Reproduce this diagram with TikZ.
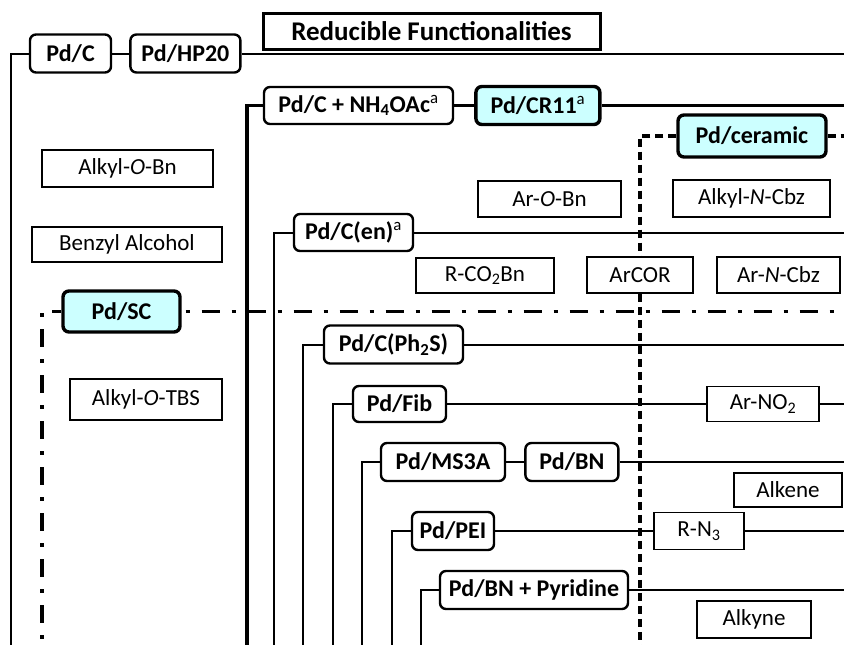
\documentclass[tikz,border=0pt]{standalone}
\usepackage{fontspec}
\setmainfont{Carlito}
\usepackage{xcolor}
\usetikzlibrary{positioning}
\definecolor{hicyan}{RGB}{204,255,255}

\begin{document}
\begin{tikzpicture}[x=1pt, y=-1pt,
  every node/.style={inner sep=0pt, align=center},
  cat/.style={draw, rounded corners=6pt, line width=2.4pt, fill=white,
    font=\fontsize{24}{27}\selectfont\bfseries, minimum height=38pt},
  hicat/.style={cat, fill=hicyan, line width=3.4pt},
  sub/.style={draw, line width=1.8pt, fill=white,
    font=\fontsize{23}{26}\selectfont, minimum height=36pt},
  ttl/.style={draw, line width=3pt, font=\fontsize{27}{30}\selectfont\bfseries},
  link/.style={line width=2pt},
  thk/.style={line width=3.6pt},
  dsh/.style={line width=3.2pt, dash pattern=on 8pt off 5pt},
  ddot/.style={line width=3.2pt, dash pattern=on 18pt off 12pt on 4pt off 12pt}
]
  \useasboundingbox (0,0) rectangle (844,645);

  \node[ttl, minimum width=337pt, minimum height=36pt] (title) at (431.5,31) {Reducible Functionalities};
  \node[cat, minimum width=81pt] (pdc) at (70.5,53.5) {Pd/C};
  \node[cat, minimum width=110pt, right=17pt of pdc] (hp20) {Pd/HP20};
  \node[cat, minimum width=189pt, minimum height=37pt] (nh4oac) at (358.5,105.5) {Pd/C + NH\textsubscript{4}OAc\textsuperscript{\mdseries a}};
  \node[hicat, minimum width=124pt, right=20pt of nh4oac] (cr11) {Pd/CR11\textsuperscript{\mdseries a}};
  \node[hicat, minimum width=148pt, minimum height=42pt] (ceramic) at (752,136) {Pd/ceramic};
  \node[cat, minimum width=119pt, minimum height=37pt] (pden) at (353.5,232.5) {Pd/C(en)\textsuperscript{\mdseries a}};
  \node[hicat, minimum width=117pt, minimum height=41pt] (pdsc) at (121.5,311.5) {Pd/SC};
  \node[cat, minimum width=139pt] (ph2s) at (393.5,344.5) {Pd/C(Ph\textsubscript{2}S)};
  \node[cat, minimum width=93pt, minimum height=36pt] (fib) at (399.5,404) {Pd/Fib};
  \node[cat, minimum width=124pt] (ms3a) at (443,462) {Pd/MS3A};
  \node[cat, minimum width=93pt, right=18pt of ms3a] (bn) {Pd/BN};
  \node[cat, minimum width=82pt] (pei) at (453,531) {Pd/PEI};
  \node[cat, minimum width=188pt] (bnpyr) at (534,590) {Pd/BN + Pyridine};

  \node[sub, minimum width=171pt, minimum height=37pt] (alkobn) at (127.5,168.5) {Alkyl-\textit{O}-Bn};
  \node[sub, minimum width=190pt, minimum height=35pt] (bnoh) at (127,244.5) {Benzyl Alcohol};
  \node[sub, minimum width=143pt] (arobn) at (549.5,199) {Ar-\textit{O}-Bn};
  \node[sub, minimum width=157pt, minimum height=37pt] (alkncbz) at (751.5,198.5) {Alkyl-\textit{N}-Cbz};
  \node[sub, minimum width=138pt, minimum height=35pt] (rco2bn) at (485,275.5) {R-CO\textsubscript{2}Bn};
  \node[sub, minimum width=106pt] (arcor) at (640,275) {ArCOR};
  \node[sub, minimum width=123pt] (arncbz) at (778.5,275) {Ar-\textit{N}-Cbz};
  \node[sub, minimum width=152pt, minimum height=41pt] (alktbs) at (146,399.5) {Alkyl-\textit{O}-TBS};
  \node[sub, minimum width=112pt, minimum height=35pt] (arno2) at (763,404) {Ar-NO\textsubscript{2}};
  \node[sub, minimum width=108pt, minimum height=34pt] (alkene) at (788,490) {Alkene};
  \node[sub, minimum width=90pt, minimum height=37pt] (rn3) at (699,531) {R-N\textsubscript{3}};
  \node[sub, minimum width=114pt, minimum height=37pt] (alkyne) at (754,619.5) {Alkyne};

  \coordinate (b0) at (11,645);  \coordinate (e0) at (844,53.5);
  \coordinate (b1) at (247,645); \coordinate (e1) at (844,105.5);
  \coordinate (b2) at (640,645); \coordinate (e2) at (844,136);
  \coordinate (b3) at (274,645); \coordinate (e3) at (844,232.5);
  \coordinate (b4) at (42,645);  \coordinate (e4) at (844,311.5);
  \coordinate (b5) at (303,645); \coordinate (e5) at (844,344.5);
  \coordinate (b6) at (333,645); \coordinate (e6) at (844,404);
  \coordinate (b7) at (362,645); \coordinate (e7) at (844,462);
  \coordinate (b8) at (392,645); \coordinate (e8) at (844,531);
  \coordinate (b9) at (421,645); \coordinate (e9) at (844,590);

  \draw[link] (b0) |- (pdc.west);
  \draw[link] (pdc) -- (hp20) -- (e0);
  \draw[thk] (b1) |- (nh4oac.west);
  \draw[thk] (nh4oac) -- (cr11) -- (e1);
  \draw[dsh] (ceramic.west) -| (arcor.north);
  \draw[dsh] (arcor.south) -- (b2);
  \draw[dsh] (ceramic) -- (e2);
  \draw[link] (b3) |- (pden.west);
  \draw[link] (pden) -- (e3);
  \draw[ddot, dash phase=9pt] (pdsc.west) -| (b4);
  \draw[ddot, dash phase=26pt] (pdsc) -- (e4);
  \draw[link] (b5) |- (ph2s.west);
  \draw[link] (ph2s) -- (e5);
  \draw[link] (b6) |- (fib.west);
  \draw[link] (fib) -- (arno2) -- (e6);
  \draw[link] (b7) |- (ms3a.west);
  \draw[link] (ms3a) -- (bn) -- (e7);
  \draw[link] (b8) |- (pei.west);
  \draw[link] (pei) -- (rn3) -- (e8);
  \draw[link] (b9) |- (bnpyr.west);
  \draw[link] (bnpyr) -- (e9);
\end{tikzpicture}
\end{document}
